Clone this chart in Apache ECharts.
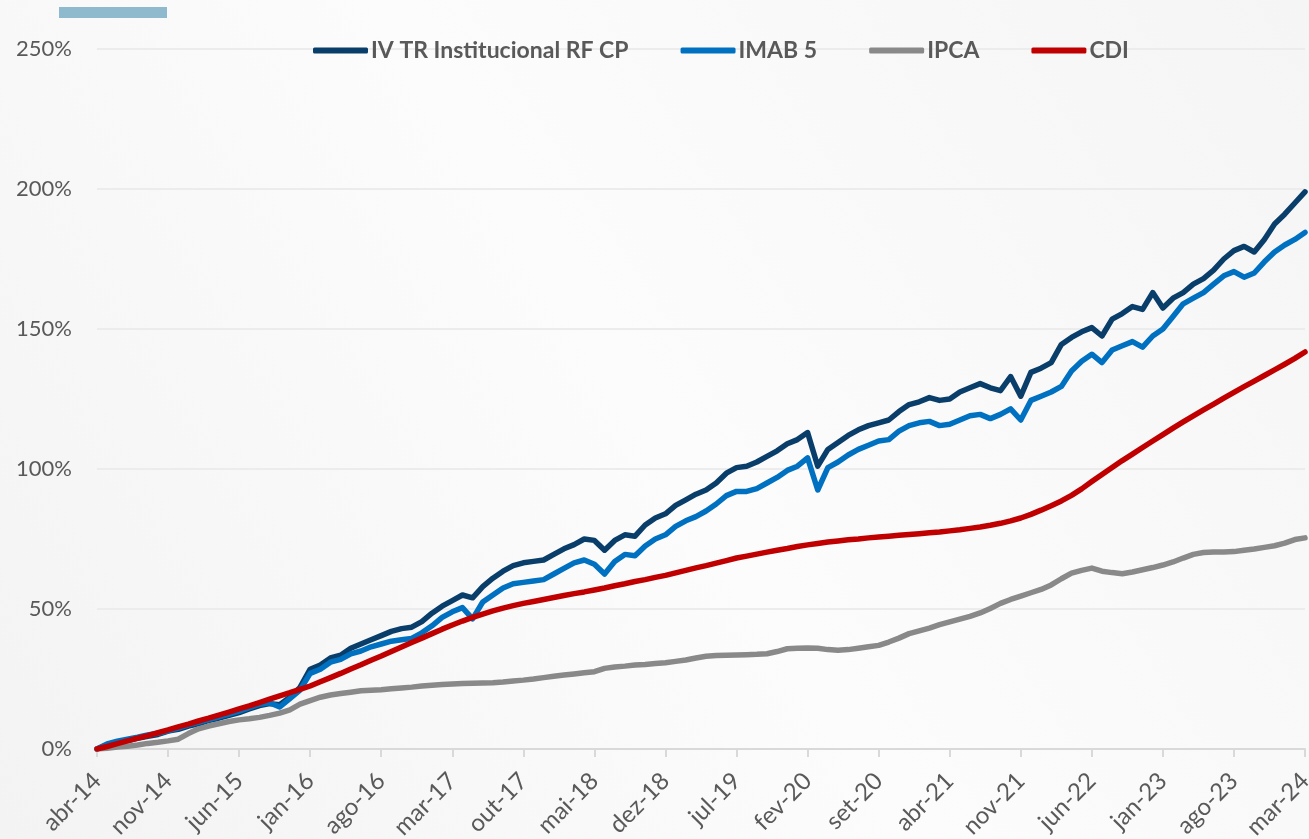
<!DOCTYPE html>
<html>
<head>
<meta charset="utf-8">
<script src="https://cdn.jsdelivr.net/npm/echarts@6/dist/echarts.min.js"></script>
<style>
  html, body { margin: 0; padding: 0; }
  #chart { width: 1309px; height: 839px; }
</style>
</head>
<body>
<div id="chart"></div>
<script>
// meses abr-14 .. mar-24
const monthNames = ['jan','fev','mar','abr','mai','jun','jul','ago','set','out','nov','dez'];
const months = [];
for (let k = 3; k < 3 + 120; k++) {
  const y = 14 + Math.floor(k / 12);
  months.push(monthNames[k % 12] + '-' + y);
}

const yTicks = [0, 50, 100, 150, 200, 250];

// rentabilidade acumulada (%)
const ivtr = [
  0, 1.5, 2.5, 3.0, 3.8, 4.5, 5.2, 6.4, 7.0, 8.2,
  9.0, 10.2, 11.0, 12.0, 13.0, 14.3, 15.5, 16.2, 15.8, 18.5,
  22.0, 28.5, 30.0, 32.5, 33.5, 36.0, 37.5, 39.0, 40.5, 42.0,
  43.0, 43.5, 45.5, 48.5, 51.0, 53.0, 55.0, 54.0, 58.0, 61.0,
  63.5, 65.5, 66.5, 67.0, 67.5, 69.5, 71.5, 73.0, 75.0, 74.5,
  71.0, 74.5, 76.5, 76.0, 80.0, 82.5, 84.0, 87.0, 89.0, 91.0,
  92.5, 95.0, 98.5, 100.5, 101.0, 102.5, 104.5, 106.5, 109.0, 110.5,
  113.0, 101.0, 107.0, 109.5, 112.0, 114.0, 115.5, 116.5, 117.5, 120.5,
  123.0, 124.0, 125.5, 124.5, 125.0, 127.5, 129.0, 130.5, 129.0, 128.0,
  133.0, 126.0, 134.5, 136.0, 138.0, 144.5, 147.0, 149.0, 150.5, 147.5,
  153.5, 155.5, 158.0, 157.0, 163.0, 157.5, 161.0, 163.0, 166.0, 168.0,
  171.0, 175.0, 178.0, 179.5, 177.5, 182.0, 187.5, 191.0, 195.0, 199.0
];

const imab5 = [
  0, 1.8, 2.8, 3.5, 4.2, 5.0, 5.6, 6.5, 7.5, 8.6,
  9.5, 10.5, 11.5, 12.5, 13.5, 14.8, 16.0, 16.5, 15.0, 18.0,
  21.0, 27.0, 28.5, 31.0, 32.0, 34.0, 35.0, 36.5, 37.5, 38.5,
  39.0, 39.5, 41.5, 44.0, 47.0, 49.0, 50.5, 46.5, 52.5, 55.0,
  57.5, 59.0, 59.5, 60.0, 60.5, 62.5, 64.5, 66.5, 67.5, 66.0,
  62.5, 67.0, 69.5, 69.0, 72.5, 75.0, 76.5, 79.5, 81.5, 83.0,
  85.0, 87.5, 90.5, 92.0, 92.0, 93.0, 95.0, 97.0, 99.5, 101.0,
  104.0, 92.5, 100.5, 102.5, 105.0, 107.0, 108.5, 110.0, 110.5, 113.5,
  115.5, 116.5, 117.0, 115.5, 116.0, 117.5, 119.0, 119.5, 118.0, 119.5,
  121.5, 117.5, 124.5, 126.0, 127.5, 129.5, 135.0, 138.5, 141.0, 138.0,
  142.5, 144.0, 145.5, 143.5, 147.5, 150.0, 154.5, 159.0, 161.0, 163.0,
  166.0, 169.0, 170.5, 168.5, 170.0, 174.0, 177.5, 180.0, 182.0, 184.5
];

const ipca = [
  0, 0.3, 0.7, 1.0, 1.4, 2.0, 2.4, 2.9, 3.5, 5.5,
  7.2, 8.2, 9.0, 9.8, 10.4, 10.8, 11.3, 12.0, 12.8, 14.0,
  16.0, 17.3, 18.5, 19.3, 19.8, 20.3, 20.8, 21.0, 21.2, 21.5,
  21.8, 22.1, 22.5, 22.8, 23.0, 23.2, 23.4, 23.5, 23.6, 23.7,
  23.9, 24.3, 24.6, 25.0, 25.5, 26.0, 26.4, 26.8, 27.2, 27.6,
  28.8, 29.3, 29.6, 30.0, 30.2, 30.5, 30.8, 31.3, 31.8, 32.5,
  33.1, 33.4, 33.5, 33.6, 33.7, 33.8, 34.0, 34.8, 35.8, 36.0,
  36.1, 36.0, 35.5, 35.3, 35.5, 36.0, 36.5, 37.0, 38.2, 39.6,
  41.2, 42.2, 43.2, 44.4, 45.4, 46.4, 47.4, 48.6, 50.2, 52.0,
  53.4, 54.6, 55.8, 57.0, 58.6, 60.8, 62.8, 63.8, 64.6, 63.5,
  63.0, 62.6, 63.2, 64.0, 64.8, 65.7, 66.8, 68.2, 69.5, 70.2,
  70.4, 70.4, 70.5, 71.0, 71.4, 72.0, 72.6, 73.5, 74.8, 75.4
];

const cdi = [
  0, 0.9, 1.9, 2.9, 3.9, 4.8, 5.8, 6.8, 7.9, 8.9,
  10.0, 11.0, 12.1, 13.2, 14.3, 15.4, 16.6, 17.8, 19.0, 20.1,
  21.3, 22.5, 24.0, 25.5, 27.0, 28.6, 30.1, 31.7, 33.2, 34.8,
  36.4, 38.0, 39.6, 41.2, 42.8, 44.3, 45.7, 47.0, 48.2, 49.3,
  50.3, 51.2, 52.0, 52.7, 53.4, 54.1, 54.8, 55.5, 56.1, 56.8,
  57.5, 58.3, 59.0, 59.8, 60.5, 61.3, 62.0, 62.9, 63.8, 64.7,
  65.5, 66.4, 67.3, 68.2, 68.9, 69.6, 70.3, 71.0, 71.6, 72.3,
  72.9, 73.4, 73.9, 74.3, 74.7, 75.0, 75.4, 75.7, 76.0, 76.3,
  76.6, 76.9, 77.2, 77.5, 77.9, 78.3, 78.8, 79.3, 79.9, 80.6,
  81.5, 82.5, 83.8, 85.3, 86.9, 88.6, 90.6, 92.9, 95.5, 98.0,
  100.5, 103.0, 105.3, 107.7, 110.0, 112.3, 114.6, 116.8, 119.0, 121.1,
  123.2, 125.3, 127.4, 129.4, 131.4, 133.4, 135.4, 137.4, 139.5, 141.8
];

const seriesNames = ['IV TR Institucional RF CP', 'IMAB 5', 'IPCA', 'CDI'];
const seriesData = [ivtr, imab5, ipca, cdi];
const colors = ['#0a3e6a', '#0070c0', '#898989', '#c00000'];

const myChart = echarts.init(document.getElementById('chart'));

myChart.setOption({
  animation: false,
  backgroundColor: {
    type: 'linear', x: 0, y: 1, x2: 1, y2: 0,
    colorStops: [{offset: 0, color: '#f3f3f3'}, {offset: 0.5, color: '#fcfcfc'}, {offset: 1, color: '#f5f5f5'}]
  },
  color: colors,
  graphic: [{
    type: 'rect',
    shape: {x: 59, y: 7, width: 108, height: 11},
    style: {fill: '#8fb9cc'}
  }],
  legend: {
    data: seriesNames,
    left: 313,
    top: 39,
    padding: 0,
    icon: 'roundRect',
    itemWidth: 55,
    itemHeight: 6,
    itemGap: 52,
    selectedMode: false,
    textStyle: {
      fontFamily: 'Lato',
      fontWeight: 'bold',
      fontSize: 23,
      color: '#595959',
      padding: [0, 0, 0, -2]
    }
  },
  grid: {left: 97, right: 4, top: 49, bottom: 90, containLabel: false, outerBoundsMode: 'none'},
  xAxis: {
    type: 'category',
    data: months,
    boundaryGap: false,
    axisLine: {lineStyle: {color: '#d9d9d9', width: 2}},
    axisTick: {show: true, interval: 6, length: 8, lineStyle: {color: '#d9d9d9', width: 2}},
    axisLabel: {
      interval: 6,
      rotate: 45,
      margin: 28,
      fontFamily: 'Lato',
      fontSize: 24,
      color: '#595959'
    }
  },
  yAxis: {
    type: 'value',
    min: 0,
    max: 250,
    interval: 50,
    axisLine: {show: false},
    axisTick: {show: false},
    splitLine: {lineStyle: {color: '#ececec', width: 2}},
    axisLabel: {
      formatter: v => v + '%',
      margin: 25,
      fontFamily: 'Lato',
      fontSize: 22,
      color: '#595959'
    }
  },
  series: seriesNames.map((name, i) => ({
    name: name,
    type: 'line',
    data: seriesData[i],
    showSymbol: false,
    symbol: 'none',
    lineStyle: {width: 5.5, color: colors[i], cap: 'round', join: 'round'},
    emphasis: {disabled: true}
  }))
});
</script>
</body>
</html>
